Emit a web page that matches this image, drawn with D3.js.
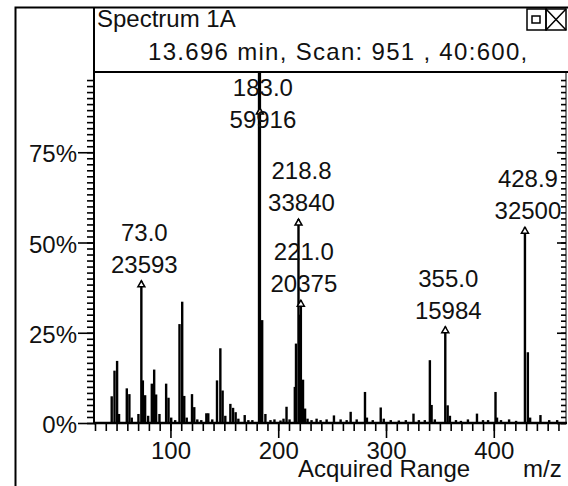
<!DOCTYPE html>
<html>
<head>
<meta charset="utf-8">
<script src="https://cdn.jsdelivr.net/npm/d3@7"></script>
<style>
  body { margin: 0; background: #fff; }
  text { font-family: "Liberation Sans", Arial, sans-serif; font-size: 24px; fill: #111; }
</style>
</head>
<body>
<svg id="chart" width="568" height="486"></svg>
<script>
// Stick spectrum: m/z and relative abundance (% of base peak).
let peakMz = [45.5, 48.1, 50.5, 52.3, 59.5, 61.9, 64.1, 70.3, 74.4, 76.5, 79.3, 82.7, 84.9, 86.7, 89.8,
    96.0, 98.2, 100.7, 104.4, 108.4, 110.9, 112.8, 115.1, 120.0, 122.1, 124.9, 128.6, 133.3, 135.1, 138.8,
    143.2, 146.3, 148.4, 150.9, 155.6, 158.1, 160.5, 163.0, 168.9, 172.3, 176.0, 182.2, 185.1, 188.1,
    192.8, 196.5, 202.1, 204.9, 207.7, 210.5, 215.4, 216.5, 220.2, 223.0, 224.9, 227.2, 230.9, 235.6,
    239.3, 244.9, 251.7, 257.9, 263.5, 267.2, 272.8, 280.5, 282.3, 287.7, 295.1, 297.9, 304.4, 311.9,
    318.4, 325.5, 330.5, 336.0, 340.7, 342.3, 345.3, 357.2, 359.3, 364.9, 369.5, 376.0, 384.4, 390.0,
    394.7, 401.6, 403.0, 406.7, 414.2, 420.7, 431.6, 433.7, 443.3, 451.4, 458.8];
let peakPct = [7.4, 14.5, 17.2, 2.5, 9.6, 8.0, 1.5, 2.5, 11.8, 7.7, 2.0, 10.9, 14.8, 7.9, 2.5,
    10.9, 7.0, 1.5, 0.8, 27.4, 33.6, 7.5, 1.5, 8.0, 4.4, 1.0, 0.8, 2.7, 2.7, 1.0,
    11.8, 20.7, 9.0, 2.0, 5.3, 4.2, 3.0, 1.2, 2.2, 0.8, 0.8, 100, 28.5, 2.5,
    0.8, 1.0, 0.7, 1.2, 4.5, 1.0, 10.0, 22.0, 30.0, 12.0, 4.0, 1.2, 0.8, 1.2,
    0.8, 1.0, 2.1, 1.0, 0.8, 3.1, 1.0, 8.6, 1.5, 0.8, 4.3, 1.2, 0.8, 0.7,
    0.8, 2.6, 0.8, 0.8, 17.4, 5.0, 1.0, 4.9, 2.0, 0.8, 0.6, 1.0, 2.6, 0.8,
    0.8, 8.6, 1.5, 0.8, 1.0, 0.6, 19.6, 1.5, 2.2, 0.8, 0.8];

// Labelled peaks (m/z and counts).
let labelMz = [73.0, 183.0, 218.8, 221.0, 355.0, 428.9];
let labelCounts = [23593, 59916, 33840, 20375, 15984, 32500];
let basePeak = 59916;

let xTicks = [100, 200, 300, 400];
let yTicks = [0, 25, 50, 75];
let title = "Spectrum 1A";
let subtitle = "13.696 min, Scan: 951 , 40:600,";

let svg = d3.select("#chart");

// plot box
let plotLeft = 95, plotRight = 566, plotTop = 72, plotBottom = 423;

let x = d3.scaleLinear().domain([30, 467]).range([plotLeft, plotRight]);
let y = d3.scaleLinear().domain([0, 100]).range([plotBottom, 62]);

svg.append("defs").append("clipPath").attr("id", "plotclip")
    .append("rect")
    .attr("x", plotLeft).attr("y", plotTop + 1)
    .attr("width", plotRight - plotLeft).attr("height", plotBottom - plotTop);

// Outer window frame and header box
svg.append("path")
    .attr("d", "M15.5,486 V7.5 H568")
    .attr("fill", "none").attr("stroke", "#000").attr("stroke-width", 2);
svg.append("path")
    .attr("d", "M" + (plotLeft - 1) + ",7.5 V" + plotTop + " H568")
    .attr("fill", "none").attr("stroke", "#000").attr("stroke-width", 2);

svg.append("text").attr("x", 97).attr("y", 27).text(title);
svg.append("text").attr("x", 148).attr("y", 60)
    .attr("letter-spacing", 1.3)
    .text(subtitle);

// window buttons
let btn = svg.append("g").attr("fill", "none").attr("stroke", "#000").attr("stroke-width", 1.5);
btn.append("rect").attr("x", 527).attr("y", 9).attr("width", 19).attr("height", 21);
btn.append("rect").attr("x", 532).attr("y", 16).attr("width", 8).attr("height", 7);
btn.append("rect").attr("x", 546).attr("y", 9).attr("width", 20).attr("height", 21);
btn.append("path").attr("d", "M546,9 L566,30 M566,9 L546,30");

// Spectrum sticks
let sticks = peakMz.map((m, i) => ({ mz: m, pct: peakPct[i] }));
let labelled = labelMz.map((m, i) => ({ mz: m, pct: labelCounts[i] / basePeak * 100, counts: labelCounts[i] }));

let plot = svg.append("g").attr("clip-path", "url(#plotclip)");
plot.selectAll("rect.stick")
    .data(sticks.concat(labelled))
    .enter().append("rect")
    .attr("class", "stick")
    .attr("x", d => x(d.mz) - 1.2)
    .attr("width", 2.4)
    .attr("y", d => y(d.pct))
    .attr("height", d => plotBottom - y(d.pct))
    .attr("fill", "#000");

// small arrow heads on labelled peaks
plot.selectAll("path.arrow")
    .data(labelled)
    .enter().append("path")
    .attr("class", "arrow")
    .attr("d", d => {
        let px = x(d.mz), py = Math.max(y(d.pct), 108);
        return "M" + (px - 3.5) + "," + (py + 6) + " L" + px + "," + py + " L" + (px + 3.5) + "," + (py + 6) + " Z";
    })
    .attr("fill", "#fff").attr("stroke", "#000").attr("stroke-width", 1.5);

// peak labels: m/z above counts, sitting just over the arrow
let lab = svg.selectAll("g.plabel")
    .data(labelled)
    .enter().append("g")
    .attr("class", "plabel")
    .attr("transform", d => {
        let base = Math.max(y(d.pct) - 8, 128);
        return "translate(" + (x(d.mz) + 3) + "," + base + ")";
    });
lab.append("text").attr("text-anchor", "middle").attr("y", -32).text(d => d.mz.toFixed(1));
lab.append("text").attr("text-anchor", "middle").attr("y", 0).text(d => d.counts);

// X axis
svg.append("g")
    .attr("transform", "translate(0," + plotBottom + ")")
    .call(d3.axisBottom(x).tickValues(d3.range(30, 467, 10)).tickSize(8).tickFormat(""))
    .call(g => g.select(".domain").remove())
    .call(g => g.selectAll("line").attr("stroke-width", 1.6));
let xAxis = svg.append("g")
    .attr("transform", "translate(0," + plotBottom + ")")
    .call(d3.axisBottom(x).tickValues(xTicks).tickSize(15).tickPadding(4))
    .call(g => g.select(".domain").remove())
    .call(g => g.selectAll("line").attr("stroke-width", 1.6));
xAxis.attr("font-size", null).attr("font-family", null);

svg.append("line")
    .attr("x1", plotLeft - 1).attr("x2", plotRight + 1)
    .attr("y1", plotBottom).attr("y2", plotBottom)
    .attr("stroke", "#000").attr("stroke-width", 2.5);

// Y axes (left with labels, right ticks only)
let minor = d3.range(0, 60).map(i => i * 25 / 15).filter(v => y(v) >= plotTop + 4);
svg.append("g")
    .attr("transform", "translate(" + plotLeft + ",0)")
    .call(d3.axisLeft(y).tickValues(minor).tickSize(8).tickFormat(""))
    .call(g => g.select(".domain").remove())
    .call(g => g.selectAll("line").attr("stroke-width", 1.6));
let yAxis = svg.append("g")
    .attr("transform", "translate(" + plotLeft + ",0)")
    .call(d3.axisLeft(y).tickValues(yTicks).tickSize(17).tickPadding(1).tickFormat(d => d + "%"))
    .call(g => g.select(".domain").remove())
    .call(g => g.selectAll("line").attr("stroke-width", 1.6));
yAxis.attr("font-size", null).attr("font-family", null);
yAxis.selectAll("text").attr("dy", "0.4em");

svg.append("g")
    .attr("transform", "translate(" + plotRight + ",0)")
    .call(d3.axisLeft(y).tickValues(minor).tickSize(5).tickFormat(""))
    .call(g => g.select(".domain").remove())
    .call(g => g.selectAll("line").attr("stroke-width", 1.6));
svg.append("g")
    .attr("transform", "translate(" + plotRight + ",0)")
    .call(d3.axisLeft(y).tickValues(yTicks).tickSize(9).tickFormat(""))
    .call(g => g.select(".domain").remove())
    .call(g => g.selectAll("line").attr("stroke-width", 1.6));

svg.append("line")
    .attr("x1", plotLeft - 1).attr("x2", plotLeft - 1)
    .attr("y1", plotTop).attr("y2", plotBottom)
    .attr("stroke", "#000").attr("stroke-width", 2);
svg.append("line")
    .attr("x1", plotRight).attr("x2", plotRight)
    .attr("y1", plotTop).attr("y2", plotBottom)
    .attr("stroke", "#000").attr("stroke-width", 1);

// axis titles
svg.append("text").attr("x", 298).attr("y", 477).text("Acquired Range");
svg.append("text").attr("x", 523).attr("y", 477).text("m/z");
</script>
</body>
</html>
